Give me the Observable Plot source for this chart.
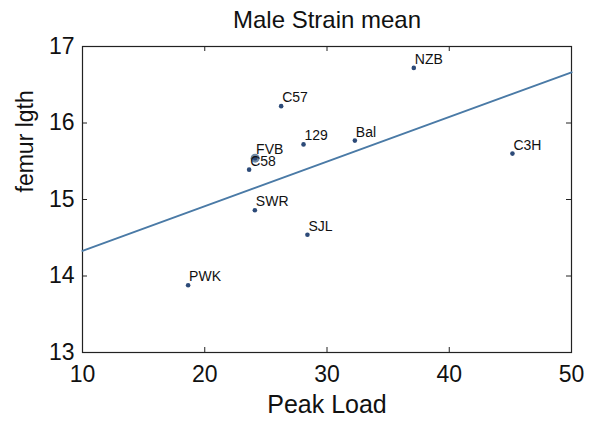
<!DOCTYPE html>
<html><head><meta charset="utf-8">
<script src="https://cdn.jsdelivr.net/npm/d3@7"></script>
<script src="https://cdn.jsdelivr.net/npm/@observablehq/plot@0.6"></script>
<style>body{margin:0;background:#fff}</style>
</head><body><div id="chart"></div>
<script>
const strains = ["NZB","C57","129","Bal","C3H","FVB","C58","SWR","SJL","PWK"];
const peakLoad = [37.1, 26.25, 28.08, 32.28, 45.17, 24.12, 23.63, 24.1, 28.4, 18.64];
const femurLength = [16.72, 16.22, 15.72, 15.77, 15.60, 15.54, 15.39, 14.86, 14.54, 13.88];
const highlighted = ["FVB"];
const xDomain = [10, 50];
const yDomain = [13, 17];
const xTicks = [10, 20, 30, 40, 50];
const yTicks = [13, 14, 15, 16, 17];
const innerXTicks = [20, 30, 40];
const innerYTicks = [14, 15, 16];
const title = "Male Strain mean";
const xLabel = "Peak Load";
const yLabel = "femur lgth";

const data = strains.map((s, i) => ({strain: s, x: peakLoad[i], y: femurLength[i]}));

// least-squares fit drawn across the full x domain
const mx = d3.mean(peakLoad), my = d3.mean(femurLength);
const slope = d3.sum(peakLoad, (x, i) => (x - mx) * (femurLength[i] - my)) / d3.sum(peakLoad, x => (x - mx) ** 2);
const intercept = my - slope * mx;
const fit = xDomain.map(x => ({x, y: intercept + slope * x}));

const font = "Liberation Sans, Arial, Helvetica, sans-serif";
const ink = "#111";
const W = 590, H = 421, mL = 82, mR = 19, mT = 46, mB = 69;
const innerW = W - mL - mR, innerH = H - mT - mB, tick = 5;

const chart = Plot.plot({
  width: W,
  height: H,
  marginLeft: mL,
  marginRight: mR,
  marginTop: mT,
  marginBottom: mB,
  style: {fontFamily: font, background: "#fff", color: ink},
  x: {domain: xDomain, label: null},
  y: {domain: yDomain, label: null},
  marks: [
    // inward ticks on all four sides
    Plot.ruleX(innerXTicks, {x: d => d, insetTop: innerH - tick, stroke: "#222"}),
    Plot.ruleX(innerXTicks, {x: d => d, insetBottom: innerH - tick, stroke: "#222"}),
    Plot.ruleY(innerYTicks, {y: d => d, insetRight: innerW - tick, stroke: "#222"}),
    Plot.ruleY(innerYTicks, {y: d => d, insetLeft: innerW - tick, stroke: "#222"}),
    Plot.frame({stroke: "#222", strokeWidth: 1.2}),
    // tick labels
    Plot.axisX({anchor: "bottom", ticks: xTicks, tickSize: 0, tickPadding: 13, tickFormat: d3.format("d"), fontSize: 23, fill: ink, label: null}),
    Plot.axisY({anchor: "left", ticks: yTicks, tickSize: 0, tickPadding: 8, tickFormat: d3.format("d"), fontSize: 23, fill: ink, label: null}),
    // regression line
    Plot.line(fit, {x: "x", y: "y", stroke: "#4a7aa6", strokeWidth: 2}),
    // points
    Plot.dot(data.filter(d => highlighted.includes(d.strain)), {x: "x", y: "y", r: 4.5, fill: "#6f88a3", stroke: "none"}),
    Plot.dot(data, {x: "x", y: "y", r: 2.3, fill: "#2c4a78", stroke: "none"}),
    Plot.text(data, {x: "x", y: "y", text: "strain", textAnchor: "start", lineAnchor: "bottom", dx: 1, dy: -4, fontSize: 14, fill: ink}),
    // titles
    Plot.text([title], {frameAnchor: "top", dy: -19, lineAnchor: "bottom", fontSize: 24, fill: ink}),
    Plot.text([xLabel], {frameAnchor: "bottom", dy: 60, lineAnchor: "bottom", fontSize: 25, fill: ink}),
    Plot.text([yLabel], {frameAnchor: "left", dx: -50, dy: -7, rotate: -90, lineAnchor: "bottom", fontSize: 23, fill: ink})
  ]
});
document.getElementById("chart").appendChild(chart);
</script>
</body></html>
